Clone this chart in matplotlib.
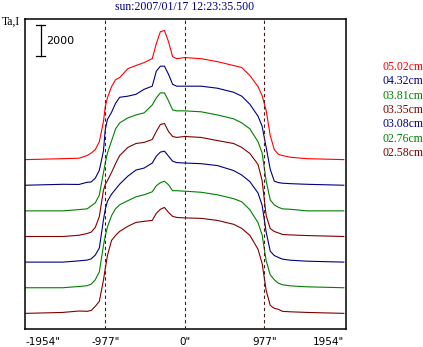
import matplotlib
matplotlib.use("Agg")
import matplotlib.pyplot as plt

# scan position (arcsec) and profile heights above each baseline
pos = [-1954, -1500, -1300, -1200, -1150, -1100, -1050, -1000, -977, -950,
       -900, -850, -800, -700, -600, -500, -400, -350, -300, -250,
       -200, -150, -100, 0, 200, 400, 600, 700, 800, 900,
       950, 1000, 1050, 1100, 1150, 1200, 1300, 1500, 1954]

ta_502 = [0, 60, 90, 260, 420, 640, 1150, 2430, 3390, 3970,
          4670, 5120, 5250, 5820, 6020, 6210, 6460, 7420, 8190, 8260,
          7550, 6590, 6460, 6530, 6460, 6270, 6020, 5890, 5380, 4670,
          4100, 3140, 1540, 640, 340, 260, 150, 60, 0]
ta_432 = [0, 60, 50, 190, 210, 450, 960, 2180, 3580, 4220,
          4670, 5250, 5630, 5700, 5820, 6140, 6340, 7300, 7620, 7620,
          7100, 6460, 6340, 6340, 6340, 6210, 5950, 5700, 5180, 4420,
          3780, 2430, 1020, 260, 170, 130, 100, 60, 0]
ta_381 = [0, 0, 80, 130, 320, 510, 1020, 2430, 3070, 3710,
          4480, 5250, 5630, 5950, 6140, 6270, 6780, 7230, 7550, 7550,
          7040, 6460, 6400, 6400, 6340, 6140, 5890, 5630, 5250, 4420,
          3710, 1920, 700, 380, 230, 130, 100, 0, 0]
ta_335 = [0, 0, 80, 190, 280, 580, 1280, 2940, 3330, 3580,
          4100, 4670, 5180, 5700, 5950, 6020, 6210, 6720, 7170, 7230,
          6720, 6400, 6340, 6400, 6340, 6140, 5950, 5700, 5310, 4610,
          3580, 1340, 510, 320, 230, 130, 100, 60, 0]
ta_308 = [0, 0, 80, 130, 210, 450, 900, 2690, 3390, 3900,
          4350, 4670, 4990, 5500, 5890, 6020, 6340, 6780, 7040, 7100,
          6780, 6460, 6370, 6340, 6300, 6180, 5860, 5570, 5150, 4420,
          3650, 1920, 700, 420, 300, 190, 120, 60, 0]
ta_276 = [0, 0, 80, 130, 230, 510, 1020, 2690, 3330, 3900,
          4610, 5060, 5310, 5570, 5820, 5950, 6140, 6530, 6720, 6820,
          6590, 6210, 6210, 6180, 6110, 5950, 5700, 5500, 4990, 4160,
          3390, 1730, 830, 510, 290, 190, 120, 60, 0]
ta_258 = [0, 60, 150, 130, 190, 450, 770, 2110, 2880, 3710,
          4670, 4990, 5250, 5570, 5820, 5890, 5950, 6400, 6660, 6780,
          6460, 6210, 6140, 6110, 6080, 5950, 5700, 5440, 4990, 4100,
          3200, 1470, 510, 320, 260, 130, 100, 60, 0]

labels = ["05.02cm", "04.32cm", "03.81cm", "03.35cm", "03.08cm", "02.76cm", "02.58cm"]
profiles = [ta_502, ta_432, ta_381, ta_335, ta_308, ta_276, ta_258]
colors = ["#ff0000", "#000080", "#008000", "#800000", "#000080", "#008000", "#800000"]

tick_pos = [-1954, -977, 0, 977, 1954]
tick_txt = ['-1954"', '-977"', '0"', '977"', '1954"']

step = 1640      # vertical spacing between the stacked scans
base = 1000      # baseline of the lowest scan

fig = plt.figure(figsize=(4.23, 3.47), dpi=100)
ax = fig.add_axes([0.0598, 0.0519, 0.757, 0.8925])

n = len(profiles)
for i, (p, c) in enumerate(zip(profiles, colors)):
    off = base + (n - 1 - i) * step
    ax.plot(pos, [v + off for v in p], color=c, lw=0.8, zorder=2)

for xv in [-977, 0, 977]:
    ax.axvline(xv, color="#4a1a1a", lw=0.8, ls=(0, (3, 2.5)), zorder=3)

# 2000 scale bar
ax.plot([-1771, -1771], [17450, 19450], color="black", lw=0.9)
ax.plot([-1824, -1718], [19450, 19450], color="black", lw=0.9)
ax.plot([-1824, -1718], [17450, 17450], color="black", lw=0.9)
ax.text(-1700, 18450, "2000", fontsize=8, va="center", ha="left",
        family="DejaVu Sans")

ax.set_xlim(-1960, 1975)
ax.set_ylim(0, 19820)
ax.set_yticks([])
ax.set_xticks(tick_pos)
ax.set_xticklabels(tick_txt, fontsize=7.5, family="DejaVu Sans")
ax.tick_params(axis="x", length=0, pad=6)
tl = ax.get_xticklabels()
tl[0].set_ha("left")
tl[-1].set_ha("right")
for s in ax.spines.values():
    s.set_linewidth(1.1)

fig.text(185 / 423, 1 - 7 / 347, "sun:2007/01/17 12:23:35.500", color="#000080",
         fontsize=8.5, family="Liberation Serif", ha="center", va="center")
fig.text(2 / 423, 1 - 22 / 347, "Ta,I", color="black", fontsize=8.5,
         family="Liberation Serif", ha="left", va="center")

for i, (lab, c) in enumerate(zip(labels, colors)):
    fig.text(382 / 423, 1 - (66.7 + i * 14.4) / 347, lab, color=c, fontsize=8.5,
             family="Liberation Serif", ha="left", va="center")

fig.savefig("out.png", dpi=100, facecolor="white")
